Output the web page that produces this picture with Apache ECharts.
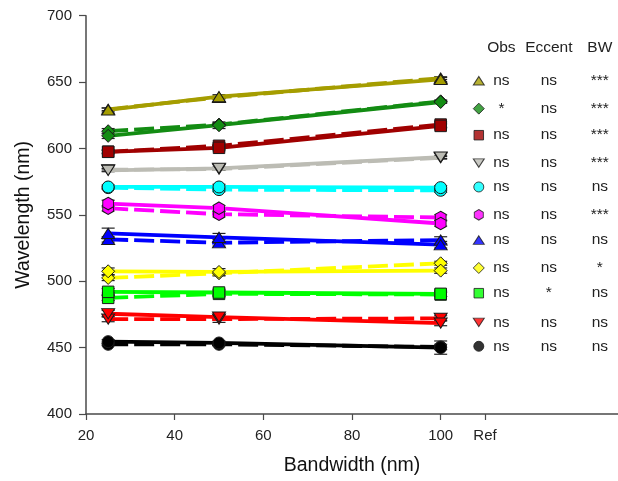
<!DOCTYPE html>
<html>
<head>
<meta charset="utf-8">
<script src="https://cdn.jsdelivr.net/npm/echarts@6/dist/echarts.min.js"></script>
<style>html,body{margin:0;padding:0;background:#fff}#c{width:618px;height:481px}</style>
</head>
<body>
<div id="c"></div>
<script>
// ---- data ----
const bandwidths = [25, 50, 100];
const groupNames = ['olive','green','darkred','gray','cyan','magenta','blue','yellow','lime','red','black'];
const groupColors = ['#a59d00','#138c13','#a00000','#bcbcb4','#00ffff','#ff00ff','#0000ff','#ffff00','#00ff00','#ff0000','#000000'];
const groupSymbols = ['triangle','diamond','rect','triangle','circle','hexagon','triangle','diamond','rect','triangle','circle'];
const groupRotate = [0,0,0,180,0,0,0,0,0,180,0];

const solidOlive = [629, 639, 652];     const dashOlive = [629.5, 638.5, 653];
const solidGreen = [609.5, 617.5, 635]; const dashGreen = [613, 618, 635.5];
const solidDarkred = [597.5, 600.5, 617]; const dashDarkred = [597.5, 602, 618];
const solidGray = [583.5, 585, 593.5];  const dashGray = [584, 584.5, 593];
const solidCyan = [571, 571, 570.5];    const dashCyan = [570.5, 569, 568.5];
const solidMagenta = [558.5, 555, 543.5]; const dashMagenta = [555, 550.5, 548];
const solidBlue = [536, 533, 527.5];    const dashBlue = [531.5, 529, 531];
const solidYellow = [507.5, 507, 508];  const dashYellow = [502.5, 506, 513.5];
const solidLime = [492, 491.5, 490.5];  const dashLime = [487.5, 490.5, 490];
const solidRed = [475.5, 473, 468.5];   const dashRed = [471.5, 471.5, 472];
const solidBlack = [454.5, 453.5, 450]; const dashBlack = [452.5, 452.5, 450.5];

const errSolid = [[1.5,1.5,1.5],[2,2.5,1],[1.5,1.5,1.5],[1,1,1],[1.5,2,1.5],[2.5,2,2],[4,3,2.5],[2.5,2.5,2],[2.5,2,2],[2.5,2,2],[1.5,1.5,5]];
const errDash  = [[1,1,1],[2,1.5,1],[1,2,2],[1,1,1],[1,1.5,1.5],[2,2,2],[2,2.5,2.5],[2,2,1.5],[2,2,1.5],[2,2.5,2],[1,1,2]];

const solidValues = [solidOlive, solidGreen, solidDarkred, solidGray, solidCyan, solidMagenta, solidBlue, solidYellow, solidLime, solidRed, solidBlack];
const dashValues = [dashOlive, dashGreen, dashDarkred, dashGray, dashCyan, dashMagenta, dashBlue, dashYellow, dashLime, dashRed, dashBlack];

const xTicks = [20, 40, 60, 80, 100, 110];
const refX = 110;

// legend table
const tableHeaders = ['Obs', 'Eccent', 'BW'];
const tableObs = ['ns','*','ns','ns','ns','ns','ns','ns','ns','ns','ns'];
const tableEccent = ['ns','ns','ns','ns','ns','ns','ns','ns','*','ns','ns'];
const tableBW = ['***','***','***','***','ns','***','ns','*','ns','ns','ns'];
const tableRowY = [651, 630, 610, 589, 571, 550, 531, 510, 491, 469, 451];
const tableHeaderY = 676;
const tableMarkerX = 108.6;
const tableColX = [113.7, 124.4, 135.9];

const symbolPaths = {
  hexagon: 'path://M0,-1 L0.866,-0.5 L0.866,0.5 L0,1 L-0.866,0.5 L-0.866,-0.5 Z',
  diamond: 'path://M0,-1 L1,0 L0,1 L-1,0 Z',
  triangle: 'path://M0,-0.8 L0.95,0.8 L-0.95,0.8 Z',
  rect: 'rect', circle: 'circle'
};
function sym(s){ return symbolPaths[s]; }
function symSize(s, base){
  if (s === 'triangle') return [base + 1, base * 0.85];
  if (s === 'hexagon') return [base * 0.9, base + 0.5];
  if (s === 'diamond') return [base + 1, base + 1];
  if (s === 'rect') return [base - 0.5, base - 0.5];
  return base;
}

const series = [];
// error bars
const errData = [];
groupNames.forEach((g, i) => {
  bandwidths.forEach((x, j) => {
    errData.push([x, solidValues[i][j], errSolid[i][j]]);
    errData.push([x, dashValues[i][j], errDash[i][j]]);
  });
});
series.push({
  type: 'custom', z: 1, silent: true,
  data: errData,
  renderItem: function (params, api) {
    const x = api.value(0), y = api.value(1), e = api.value(2);
    const top = api.coord([x, y + e]);
    const bot = api.coord([x, y - e]);
    const hw = 6.5;
    const st = { stroke: '#222', lineWidth: 1.2 };
    return { type: 'group', children: [
      { type: 'line', shape: { x1: top[0], y1: top[1], x2: bot[0], y2: bot[1] }, style: st },
      { type: 'line', shape: { x1: top[0]-hw, y1: top[1], x2: top[0]+hw, y2: top[1] }, style: st },
      { type: 'line', shape: { x1: bot[0]-hw, y1: bot[1], x2: bot[0]+hw, y2: bot[1] }, style: st }
    ]};
  }
});

groupNames.forEach((g, i) => {
  const common = {
    type: 'line', z: 2,
    symbol: sym(groupSymbols[i]), symbolRotate: groupRotate[i], symbolSize: symSize(groupSymbols[i], 12),
    showAllSymbol: true,
    itemStyle: { color: groupColors[i], borderColor: '#1a1a1a', borderWidth: 1 },
    animation: false
  };
  series.push(Object.assign({}, common, {
    name: g + '-dash',
    lineStyle: { color: groupColors[i], width: 3.8, type: [20, 6] },
    data: bandwidths.map((x, j) => [x, dashValues[i][j]])
  }));
  series.push(Object.assign({}, common, {
    name: g + '-solid',
    lineStyle: { color: groupColors[i], width: 3.8, type: 'solid' },
    data: bandwidths.map((x, j) => [x, solidValues[i][j]])
  }));
  // legend marker
  series.push({
    type: 'scatter', z: 3, animation: false,
    symbol: sym(groupSymbols[i]), symbolRotate: groupRotate[i], symbolSize: symSize(groupSymbols[i], 10),
    itemStyle: { color: groupColors[i], borderColor: '#1a1a1a', borderWidth: 1 },
    data: [[tableMarkerX, tableRowY[i]]]
  });
});

const chart = echarts.init(document.getElementById('c'), null, { renderer: 'canvas' });
const FONT = '"Liberation Sans", Arial, sans-serif';
chart.setOption({
  animation: false,
  grid: { left: 86, right: 0, top: 15.7, bottom: 61, containLabel: false },
  xAxis: {
    type: 'value', min: 20, max: 140, interval: 10,
    name: 'Bandwidth (nm)', nameLocation: 'middle', nameGap: 42,
    nameTextStyle: { fontFamily: FONT, fontSize: 19.5, color: '#111' },
    splitLine: { show: false },
    axisLine: { show: true, lineStyle: { color: '#4a4a4a', width: 1.5 } },
    axisTick: { show: true, customValues: xTicks, length: 6, lineStyle: { color: '#4a4a4a', width: 1.2 } },
    axisLabel: { customValues: xTicks, margin: 14, fontFamily: FONT, fontSize: 15, color: '#222',
      formatter: v => v === refX ? 'Ref' : String(v) }
  },
  yAxis: {
    type: 'value', min: 400, max: 700, interval: 50,
    name: 'Wavelength (nm)', nameLocation: 'middle', nameGap: 52,
    nameTextStyle: { fontFamily: FONT, fontSize: 19.5, color: '#111' },
    splitLine: { show: false },
    axisLine: { show: true, lineStyle: { color: '#4a4a4a', width: 1.5 } },
    axisTick: { show: true, inside: false, length: 7, lineStyle: { color: '#4a4a4a', width: 1.2 } },
    axisLabel: { margin: 14, fontFamily: FONT, fontSize: 15, color: '#222' }
  },
  series: series
});

// table text via data -> pixel conversion
const graphics = [];
function addText(xv, yv, txt) {
  const p = chart.convertToPixel({ gridIndex: 0 }, [xv, yv]);
  graphics.push({
    type: 'text', x: p[0], y: p[1], silent: true,
    style: { text: txt, fill: '#222', font: '15.5px ' + FONT,
      textAlign: 'center', textVerticalAlign: 'middle' }
  });
}
tableHeaders.forEach((h, k) => addText(tableColX[k], tableHeaderY, h));
tableRowY.forEach((y, i) => {
  addText(tableColX[0], y, tableObs[i]);
  addText(tableColX[1], y, tableEccent[i]);
  addText(tableColX[2], y, tableBW[i]);
});
chart.setOption({ graphic: graphics });
</script>
</body>
</html>
